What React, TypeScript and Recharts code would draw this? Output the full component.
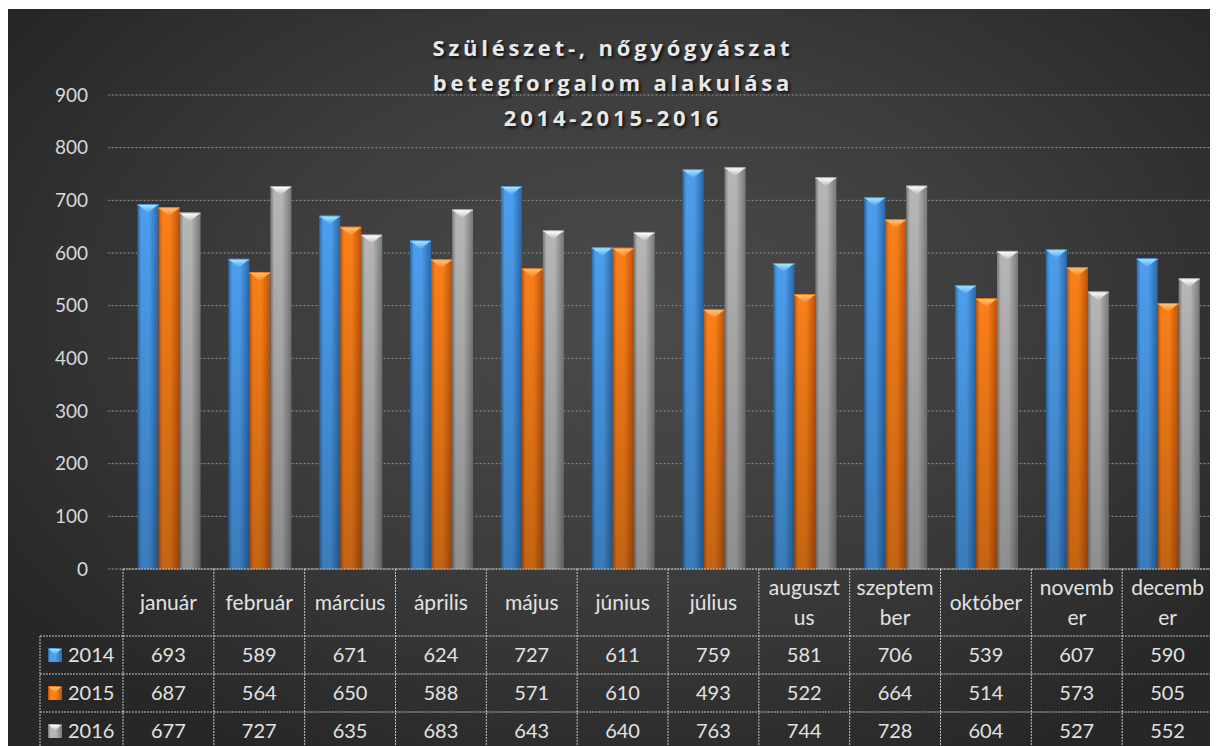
import { BarChart, Bar, XAxis, YAxis, CartesianGrid } from "recharts";

// categories as they appear in the data table (Excel wrapped the long ones)
const months = [
  "január",
  "február",
  "március",
  "április",
  "május",
  "június",
  "július",
  "auguszt\nus",
  "szeptem\nber",
  "október",
  "novemb\ner",
  "decemb\ner",
];
const values2014 = [693, 589, 671, 624, 727, 611, 759, 581, 706, 539, 607, 590];
const values2015 = [687, 564, 650, 588, 571, 610, 493, 522, 664, 514, 573, 505];
const values2016 = [677, 727, 635, 683, 643, 640, 763, 744, 728, 604, 527, 552];
const seriesNames = ["2014", "2015", "2016"];
const yTicks = [0, 100, 200, 300, 400, 500, 600, 700, 800, 900];
const titleLines = ["Szülészet-, nőgyógyászat", "betegforgalom alakulása", "2014-2015-2016"];

const data = months.map((m, i) => ({
  month: m,
  y2014: values2014[i],
  y2015: values2015[i],
  y2016: values2016[i],
}));
const seriesValues = [values2014, values2015, values2016];

const W = 1210;
const H = 737;
const Y_AXIS_W = 100;
const RIGHT = 5;
const X_PAD = 15;
const BAND = (W - Y_AXIS_W - RIGHT - X_PAD) / months.length;
const HEAD_H = 67;
const ROW_H = 38;
const LEG_W = 83;
const FONT = "Lato, 'Open Sans', sans-serif";
const TEXT = "#e2e2e2";

const tones = [
  { id: "blue", edge: "#2a68a8", mid: "#4c9eee", tip: "#a6e6ff" },
  { id: "orange", edge: "#bd530b", mid: "#fa8018", tip: "#ffc47c" },
  { id: "gray", edge: "#787878", mid: "#b6b6b6", tip: "#ffffff" },
];

const lineStyle = { stroke: "#c6c6c6", strokeDasharray: "2 1", strokeWidth: 1 };

function Gradients() {
  return (
    <defs>
      {tones.map((t) => (
        <linearGradient key={t.id} id={`side-${t.id}`} x1="0" y1="0" x2="1" y2="0">
          <stop offset="0%" stopColor={t.edge} />
          <stop offset="18%" stopColor={t.mid} />
          <stop offset="55%" stopColor={t.mid} />
          <stop offset="100%" stopColor={t.edge} />
        </linearGradient>
      ))}
      {tones.map((t) => (
        <linearGradient key={t.id} id={`tip-${t.id}`} x1="0" y1="0" x2="0" y2="1">
          <stop offset="0%" stopColor={t.tip} />
          <stop offset="100%" stopColor={t.mid} />
        </linearGradient>
      ))}
      <linearGradient id="shade" x1="0" y1="0" x2="0" y2="1">
        <stop offset="0%" stopColor="#000" stopOpacity={0} />
        <stop offset="100%" stopColor="#000" stopOpacity={0.22} />
      </linearGradient>
    </defs>
  );
}

function BevelBar(props: any) {
  const { x, y, width, height, tone } = props;
  if (!height || height <= 0) return null;
  const t = tones[tone];
  const tipH = Math.min(9, height);
  return (
    <g>
      <rect x={x} y={y} width={width} height={height} fill={`url(#side-${t.id})`} />
      <rect x={x} y={y} width={width} height={height} fill="url(#shade)" />
      <rect x={x} y={y} width={width} height={2} fill={t.mid} opacity={0.9} />
      <polygon
        points={`${x + 1},${y + 1} ${x + width - 1},${y + 1} ${x + width / 2},${y + tipH}`}
        fill={`url(#tip-${t.id})`}
      />
    </g>
  );
}

function LegendKey({ x, y, tone }: { x: number; y: number; tone: number }) {
  const t = tones[tone];
  return (
    <g>
      <rect x={x} y={y} width={14} height={14} fill={`url(#side-${t.id})`} />
      <polygon points={`${x + 1},${y + 1} ${x + 13},${y + 1} ${x + 7},${y + 7}`} fill={`url(#tip-${t.id})`} />
    </g>
  );
}

function TableColumn(props: any) {
  const { x, y, payload } = props;
  const i = months.indexOf(payload.value);
  const l = x - BAND / 2;
  const r = x + BAND / 2;
  const bottom = y + HEAD_H + ROW_H * 3;
  const lines = String(payload.value).split("\n");
  return (
    <g fontFamily={FONT} fontSize={20} fill={TEXT}>
      <line x1={l} x2={r} y1={y} y2={y} {...lineStyle} />
      {[0, 1, 2].map((k) => (
        <line key={k} x1={l} x2={r} y1={y + HEAD_H + ROW_H * k} y2={y + HEAD_H + ROW_H * k} {...lineStyle} />
      ))}
      <line x1={l} x2={l} y1={y} y2={bottom} {...lineStyle} />
      {i === months.length - 1 && <line x1={r} x2={r} y1={y} y2={bottom} {...lineStyle} />}
      <g fontSize={21}>
        {lines.length === 1 ? (
          <text x={x} y={y + HEAD_H / 2 + 7} textAnchor="middle">
            {lines[0]}
          </text>
        ) : (
          lines.map((s, k) => (
            <text key={k} x={x} y={y + 26 + k * 30} textAnchor="middle">
              {s}
            </text>
          ))
        )}
      </g>
      {seriesValues.map((vals, k) => (
        <text key={k} x={x} y={y + HEAD_H + ROW_H * k + ROW_H / 2 + 7} textAnchor="middle">
          {vals[i]}
        </text>
      ))}
      {i === 0 && (
        <g>
          <line x1={l - LEG_W} x2={l - LEG_W} y1={y + HEAD_H} y2={bottom} {...lineStyle} />
          {seriesNames.map((name, k) => {
            const top = y + HEAD_H + ROW_H * k;
            return (
              <g key={name}>
                <line x1={l - LEG_W} x2={l} y1={top} y2={top} {...lineStyle} />
                <LegendKey x={l - LEG_W + 8} y={top + ROW_H / 2 - 7} tone={k} />
                <text x={l - LEG_W + 28} y={top + ROW_H / 2 + 7} textAnchor="start">
                  {name}
                </text>
              </g>
            );
          })}
        </g>
      )}
    </g>
  );
}

export default function App() {
  return (
    <div style={{ paddingTop: 1 }}>
      <div
        style={{
          position: "relative",
          width: W,
          height: H,
          overflow: "hidden",
          background:
            "radial-gradient(ellipse 62% 68% at 52% 42%, #4b4b4b 0%, #3d3d3d 50%, #272727 100%)",
        }}
      >
        <BarChart
          width={W}
          height={H}
          data={data}
          margin={{ top: 86, right: RIGHT, bottom: 0, left: 0 }}
          barCategoryGap="16%"
          barGap={0}
        >
          <Gradients />
          <CartesianGrid vertical={false} stroke="#575757" strokeWidth={1} />
          <CartesianGrid vertical={false} stroke="#9a9a9a" strokeDasharray="1 3" strokeWidth={1} />
          <XAxis
            dataKey="month"
            height={H - 560}
            padding={{ left: X_PAD, right: 0 }}
            axisLine={false}
            tickLine={false}
            tickSize={0}
            tickMargin={0}
            interval={0}
            tick={<TableColumn />}
          />
          <YAxis
            width={Y_AXIS_W}
            domain={[0, 900]}
            ticks={yTicks}
            axisLine={false}
            tickLine={false}
            tickSize={0}
            tickMargin={20}
            tick={{ fill: "#d9d9d9", fontSize: 19, fontFamily: FONT }}
          />
          <Bar dataKey="y2014" isAnimationActive={false} shape={(p: any) => <BevelBar {...p} tone={0} />} />
          <Bar dataKey="y2015" isAnimationActive={false} shape={(p: any) => <BevelBar {...p} tone={1} />} />
          <Bar dataKey="y2016" isAnimationActive={false} shape={(p: any) => <BevelBar {...p} tone={2} />} />
        </BarChart>
        <div
          style={{
            position: "absolute",
            left: 0,
            top: 21,
            width: W,
            textAlign: "center",
            fontFamily: "'Open Sans', Lato, sans-serif",
            fontWeight: 700,
            fontSize: 22,
            lineHeight: "35px",
            letterSpacing: 3.8,
            color: "#e8e8e8",
            textShadow: "2px 2px 3px rgba(0,0,0,0.75)",
          }}
        >
          {titleLines.map((s) => (
            <div key={s}>{s}</div>
          ))}
        </div>
      </div>
    </div>
  );
}
